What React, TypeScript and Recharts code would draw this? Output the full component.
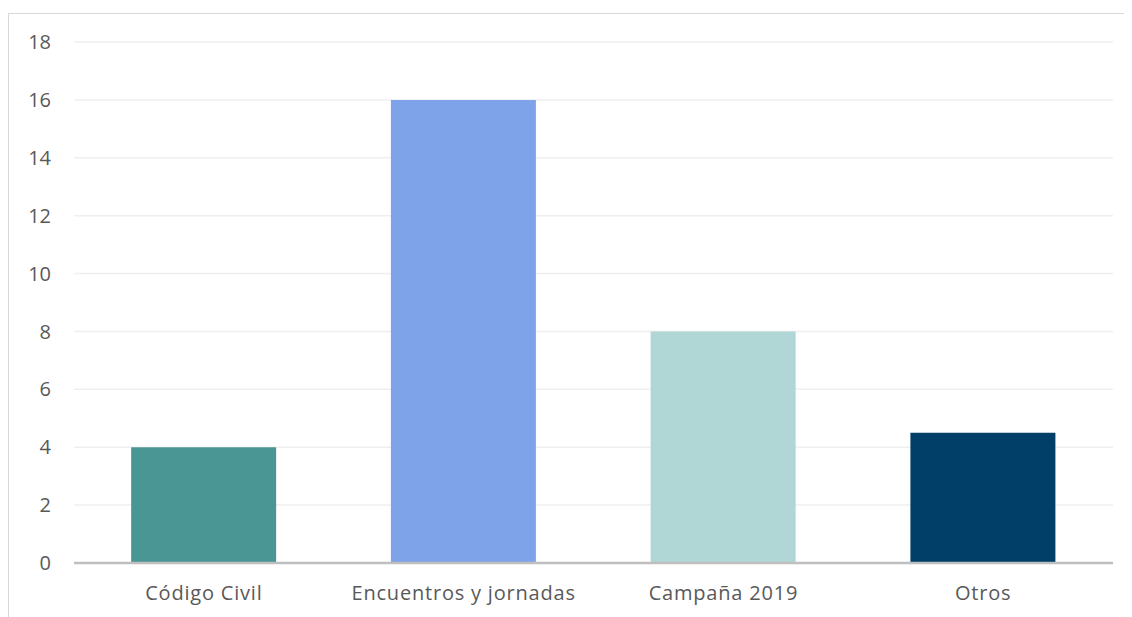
import { Bar, BarChart, CartesianGrid, Cell, XAxis, YAxis } from "recharts";

const categories = ["Código Civil", "Encuentros y jornadas", "Campaña 2019", "Otros"];
const values = [4, 16, 8, 4.5];
const yTicks = [0, 2, 4, 6, 8, 10, 12, 14, 16, 18];
const COLORS = ["#4a9694", "#7fa3e9", "#b0d6d6", "#023f68"];

const data = categories.map((name, i) => ({ name, value: values[i] }));

const FONT = "'Open Sans', sans-serif";

export default function App() {
	return (
		<div
			style={{
				position: "relative",
				top: 5,
				width: 1130,
				height: 610,
				borderTop: "1px solid #d9d9d9",
				borderLeft: "1px solid #d9d9d9",
				background: "#fff",
				fontFamily: FONT,
			}}
		>
			<BarChart
				width={1120}
				height={600}
				data={data}
				margin={{ top: 28, right: 16, bottom: 21, left: 0 }}
				barCategoryGap="22%"
			>
				<CartesianGrid vertical={false} stroke="#efefef" strokeWidth={1.5} />
				<XAxis
					dataKey="name"
					height={30}
					tickLine={false}
					tickSize={0}
					tickMargin={23}
					axisLine={{ stroke: "#bfbfbf", strokeWidth: 2.5 }}
					tick={{ fill: "#595959", fontSize: 20, fontFamily: FONT, letterSpacing: 0.8 }}
				/>
				<YAxis
					width={65}
					domain={[0, 18]}
					ticks={yTicks}
					interval={0}
					axisLine={false}
					tickLine={false}
					tickSize={0}
					tickMargin={23}
					tick={{ fill: "#595959", fontSize: 20, fontFamily: FONT }}
				/>
				<Bar dataKey="value" isAnimationActive={false}>
					{data.map((d, i) => (
						<Cell key={d.name} fill={COLORS[i]} />
					))}
				</Bar>
			</BarChart>
		</div>
	);
}
